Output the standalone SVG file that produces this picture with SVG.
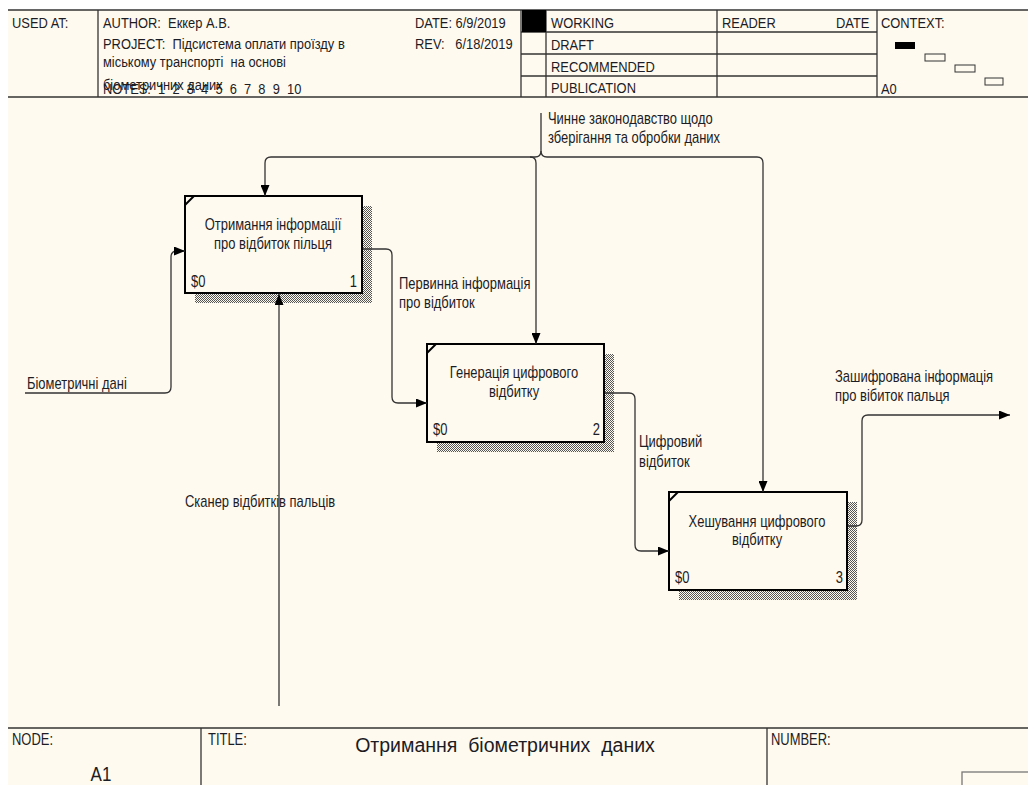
<svg xmlns="http://www.w3.org/2000/svg" width="1028" height="785" viewBox="0 0 1028 785">
<style>
text{font-family:"Liberation Sans",Arial,sans-serif;fill:#1c1c24;font-size:13px;white-space:pre}
.c{font-size:16px;transform-box:fill-box;transform:scaleX(0.81)}
.hd{font-size:15px;transform-box:fill-box;transform:scaleX(0.86);transform-origin:0% 50%}
.s{transform-origin:0% 50%}
.m{transform-origin:50% 50%;text-anchor:middle}
.e{transform-origin:100% 50%;text-anchor:end}
.frame{stroke:#333;stroke-width:1.3;fill:none}
.box{fill:#FFFAF0;stroke:#000;stroke-width:2}
.conn{fill:none;stroke:#333;stroke-width:1.3}
</style>
<defs>
<pattern id="hatch" width="2" height="2" patternUnits="userSpaceOnUse">
<rect width="2" height="2" fill="#FFFAF0"/>
<rect width="1" height="1" fill="#555"/>
<rect x="1" y="1" width="1" height="1" fill="#555"/>
</pattern>
<marker id="arr" markerWidth="12" markerHeight="9" refX="11" refY="4.5" orient="auto" markerUnits="userSpaceOnUse">
<path d="M0,0 L11,4.5 L0,9 Z" fill="#000"/>
</marker>
</defs>
<rect width="1028" height="785" fill="#fff"/>
<rect x="8" y="10" width="1020" height="775" fill="#FFFAF0"/>

<g id="header">
<line class="frame" x1="8" y1="10" x2="1028" y2="10"/>
<line class="frame" x1="8" y1="97" x2="1028" y2="97"/>
<line class="frame" x1="98" y1="10" x2="98" y2="97"/>
<line class="frame" x1="521" y1="10" x2="521" y2="97"/>
<line class="frame" x1="546" y1="10" x2="546" y2="97"/>
<line class="frame" x1="717" y1="10" x2="717" y2="97"/>
<line class="frame" x1="877" y1="10" x2="877" y2="97"/>
<line class="frame" x1="521" y1="32" x2="877" y2="32"/>
<line class="frame" x1="521" y1="54" x2="877" y2="54"/>
<line class="frame" x1="521" y1="76" x2="877" y2="76"/>
<rect x="522" y="10" width="24" height="22" fill="#000"/>
<text class="hd" x="12" y="28">USED AT:</text>
<text class="hd" x="103" y="28">AUTHOR:  Еккер А.В.</text>
<text class="hd" x="103" y="49.5">PROJECT:  Підсистема оплати проїзду в</text>
<text class="hd" x="103" y="67">міському транспорті  на основі</text>
<text class="hd" x="103" y="90">біометричних даних</text>
<text class="hd" x="103" y="94">NOTES:  1  2  3  4  5  6  7  8  9  10</text>
<text class="hd" x="415" y="28">DATE: 6/9/2019</text>
<text class="hd" x="415" y="49.5">REV:   6/18/2019</text>
<text class="hd" x="551" y="28">WORKING</text>
<text class="hd" x="551" y="50">DRAFT</text>
<text class="hd" x="551" y="72">RECOMMENDED</text>
<text class="hd" x="551" y="93.5">PUBLICATION</text>
<text class="hd" x="722" y="28">READER</text>
<text class="hd" x="836" y="28">DATE</text>
<text class="hd" x="881" y="28">CONTEXT:</text>
<text class="hd" x="881" y="94">A0</text>
<rect x="895" y="42" width="20" height="7" fill="#000"/>
<rect x="925" y="54" width="20" height="7" fill="none" stroke="#333" stroke-width="1"/>
<rect x="955" y="65" width="20" height="7" fill="none" stroke="#333" stroke-width="1"/>
<rect x="985" y="78" width="18" height="7" fill="none" stroke="#333" stroke-width="1"/>
</g>

<g id="footer">
<line class="frame" x1="8" y1="728" x2="1028" y2="728"/>
<line class="frame" x1="201" y1="728" x2="201" y2="785"/>
<line class="frame" x1="767" y1="728" x2="767" y2="785"/>
<text class="c s" x="12" y="745">NODE:</text>
<text class="c s" x="208" y="745">TITLE:</text>
<text class="c s" x="771" y="745">NUMBER:</text>
<text x="505" y="752" text-anchor="middle" style="font-size:19.5px">Отримання  біометричних  даних</text>
<text class="c m" x="101" y="781" style="font-size:21px">A1</text>
<rect x="962" y="772" width="80" height="30" fill="none" stroke="#777" stroke-width="1.3"/>
</g>

<g id="node1">
<rect x="195" y="206" width="177" height="97" fill="url(#hatch)"/>
<rect class="box" x="185" y="196" width="177" height="97"/>
<line x1="185" y1="205" x2="194" y2="196" stroke="#000" stroke-width="2"/>
<text class="c m" x="273" y="230">Отримання інформації</text>
<text class="c m" x="273" y="249">про відбиток пільця</text>
<text class="c s" x="191" y="287">$0</text>
<text class="c e" x="357" y="287">1</text>
</g>

<g id="node2">
<rect x="437" y="354" width="177" height="98" fill="url(#hatch)"/>
<rect class="box" x="427" y="344" width="177" height="98"/>
<line x1="427" y1="353" x2="436" y2="344" stroke="#000" stroke-width="2"/>
<text class="c m" x="514" y="378">Генерація цифрового</text>
<text class="c m" x="514" y="397">відбитку</text>
<text class="c s" x="433" y="435">$0</text>
<text class="c e" x="600" y="435">2</text>
</g>

<g id="node3">
<rect x="679" y="502" width="178" height="98" fill="url(#hatch)"/>
<rect class="box" x="669" y="492" width="178" height="98"/>
<line x1="669" y1="501" x2="678" y2="492" stroke="#000" stroke-width="2"/>
<text class="c m" x="757" y="527">Хешування цифрового</text>
<text class="c m" x="757" y="545">відбитку</text>
<text class="c s" x="675" y="583">$0</text>
<text class="c e" x="843" y="583">3</text>
</g>

<g id="connectors">
<path class="conn" d="M541,113 V151 Q541,157 535,157 H271 Q265,157 265,163 V196" marker-end="url(#arr)"/>
<path class="conn" d="M541,151 Q541,157 547,157 H757 Q763,157 763,163 V492" marker-end="url(#arr)"/>
<path class="conn" d="M530,157 Q536,157 536,163 V344" marker-end="url(#arr)"/>
<path class="conn" d="M25,393 H165 Q171,393 171,387 V257 Q171,251 177,251 H185" marker-end="url(#arr)"/>
<path class="conn" d="M279,706 V294" marker-end="url(#arr)"/>
<path class="conn" d="M363,249 H386 Q392,249 392,255 V397 Q392,403 398,403 H427" marker-end="url(#arr)"/>
<path class="conn" d="M605,393 H629 Q635,393 635,399 V545 Q635,551 641,551 H669" marker-end="url(#arr)"/>
<path class="conn" d="M848,526 H856 Q862,526 862,520 V421 Q862,415 868,415 H1010" marker-end="url(#arr)"/>
<text class="c s" x="548" y="124">Чинне законодавство щодо</text>
<text class="c s" x="548" y="143">зберігання та обробки даних</text>
<text class="c s" x="27" y="389">Біометричні дані</text>
<text class="c s" x="185" y="507">Сканер відбитків пальців</text>
<text class="c s" x="399" y="289">Первинна інформація</text>
<text class="c s" x="399" y="308">про відбиток</text>
<text class="c s" x="639" y="447">Цифровий</text>
<text class="c s" x="639" y="467">відбиток</text>
<text class="c s" x="835" y="382">Зашифрована інформація</text>
<text class="c s" x="835" y="401">про вібиток пальця</text>
</g>
</svg>
